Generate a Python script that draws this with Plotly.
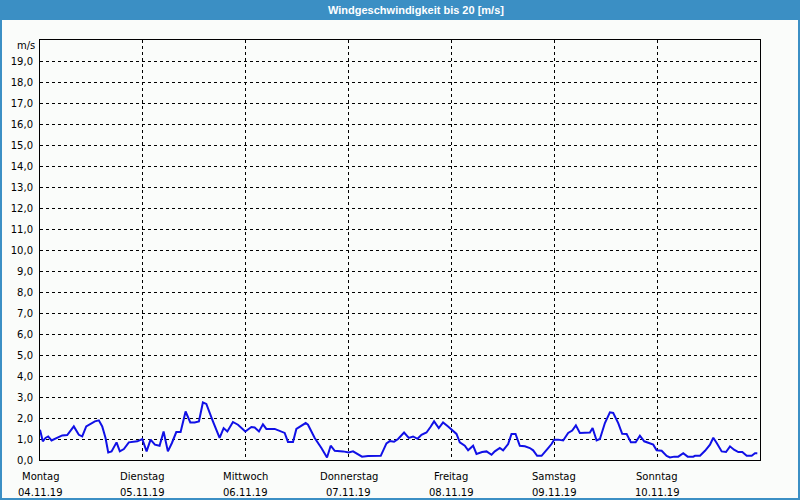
import plotly.graph_objects as go

# ---- data (hours since Monday 00:00, wind speed m/s) ----
hours = [0.0, 0.65, 1.28, 1.91, 2.69, 3.46, 4.39, 5.18, 6.35, 7.89, 9.06, 9.85, 10.79, 11.79,
         12.80, 13.73, 14.52, 15.29, 15.92, 16.70, 17.86, 18.63, 19.57, 20.73, 21.90, 22.70,
         23.86, 24.87, 25.80, 26.81, 27.90, 28.84, 29.84, 30.78, 31.80, 32.81, 33.97, 35.07,
         36.08, 37.08, 38.01, 38.81, 40.35, 41.91, 42.85, 43.71, 45.02, 46.19, 47.91, 49.32,
         50.09, 51.09, 52.02, 52.82, 54.76, 56.32, 57.09, 57.86, 59.03, 59.82, 60.99, 61.99,
         62.53, 64.10, 65.66, 66.43, 66.97, 67.83, 68.77, 70.70, 72.04, 73.04, 73.83, 75.14,
         76.54, 79.51, 80.84, 81.61, 82.61, 83.55, 84.95, 86.05, 87.05, 88.08, 89.01, 90.18,
         91.11, 91.95, 93.05, 94.05, 95.22, 96.39, 97.18, 97.95, 99.12, 99.89, 101.06, 101.85,
         103.16, 104.19, 105.36, 106.13, 107.29, 108.06, 109.23, 110.02, 110.96, 111.96,
         113.13, 114.30, 115.07, 116.00, 117.03, 118.57, 119.36, 119.97, 120.91, 122.07,
         123.24, 124.18, 125.04, 125.97, 127.14, 128.31, 128.94, 129.87, 130.64, 131.81,
         132.98, 133.75, 134.92, 135.85, 136.88, 137.88, 138.98, 139.98, 140.99, 141.92,
         143.09, 143.88, 145.05, 146.22, 146.99, 147.99, 148.93, 150.09, 151.12, 152.43,
         152.83, 154.00, 155.17, 156.33, 157.10, 157.90, 159.06, 160.07, 161.00, 161.94,
         162.94, 163.87, 164.90, 166.06, 166.83, 167.37]
speed = [1.44, 0.89, 1.05, 1.12, 0.93, 1.00, 1.12, 1.17, 1.19, 1.60, 1.20, 1.12, 1.60, 1.73,
         1.84, 1.89, 1.60, 1.05, 0.36, 0.41, 0.84, 0.41, 0.52, 0.84, 0.86, 0.89,
         1.00, 0.41, 0.97, 0.73, 0.68, 1.36, 0.41, 0.81, 1.33, 1.33, 2.31, 1.79,
         1.79, 1.84, 2.74, 2.67, 1.84, 1.05, 1.52, 1.36, 1.81, 1.68, 1.36, 1.57,
         1.55, 1.36, 1.70, 1.48, 1.48, 1.36, 1.29, 0.86, 0.86, 1.48, 1.63, 1.76,
         1.68, 1.05, 0.57, 0.33, 0.12, 0.68, 0.44, 0.41, 0.36, 0.41, 0.33, 0.16,
         0.19, 0.20, 0.79, 0.90, 0.87, 1.00, 1.31, 1.05, 1.12, 1.01, 1.20, 1.31,
         1.57, 1.84, 1.52, 1.79, 1.60, 1.36, 1.24, 0.84, 0.68, 0.46, 0.68, 0.29,
         0.38, 0.41, 0.25, 0.41, 0.57, 0.46, 0.76, 1.24, 1.24, 0.68,
         0.65, 0.57, 0.46, 0.20, 0.20, 0.57, 0.76, 0.97, 0.97, 0.93,
         1.29, 1.40, 1.65, 1.29, 1.31, 1.31, 1.52, 0.93, 1.00, 1.76,
         2.27, 2.24, 1.76, 1.25, 1.24, 0.84, 0.84, 1.16, 0.89, 0.81,
         0.73, 0.46, 0.44, 0.19, 0.12, 0.16, 0.16, 0.32, 0.16, 0.16,
         0.20, 0.20, 0.44, 0.73, 1.06, 0.81, 0.41, 0.38, 0.65, 0.49,
         0.38, 0.38, 0.20, 0.20, 0.32, 0.32]

day_hours = [0, 24, 48, 72, 96, 120, 144]
day_names = ["Montag", "Dienstag", "Mittwoch", "Donnerstag", "Freitag", "Samstag", "Sonntag"]
day_dates = ["04.11.19", "05.11.19", "06.11.19", "07.11.19", "08.11.19", "09.11.19", "10.11.19"]
y_ticks = list(range(0, 20))
y_labels = [f"{v},0" for v in y_ticks]
title_text = "Windgeschwindigkeit bis 20 [m/s]"
unit_text = "m/s"

# ---- layout constants (pixels) ----
W, H = 800, 500
ML, MR, MT, MB = 40, 40, 40, 40
PW, PH = W - ML - MR, H - MT - MB
BG = "#fafcfa"
BLUE = "#3b8fc4"
FONT = "DejaVu Sans"


def px_x(p):
    return (p - ML) / PW


def px_y(p):
    return (H - MB - p) / PH


fig = go.Figure()
fig.add_trace(go.Scatter(x=hours, y=speed, mode="lines",
                         line=dict(color="#1010e6", width=2), hoverinfo="skip"))

shapes = [
    # title bar
    dict(type="rect", xref="paper", yref="paper", x0=px_x(0), x1=px_x(W), y0=px_y(20), y1=px_y(0),
         fillcolor=BLUE, line=dict(width=0), layer="below"),
    # window border
    dict(type="rect", xref="paper", yref="paper", x0=px_x(1), x1=px_x(W - 1), y0=px_y(H - 1), y1=px_y(19),
         fillcolor="rgba(0,0,0,0)", line=dict(color=BLUE, width=2), layer="below"),
]

annotations = [
    dict(text=f"<b>{title_text}</b>", xref="paper", yref="paper", x=px_x(416), y=px_y(10),
         xanchor="center", yanchor="middle", showarrow=False,
         font=dict(family="Liberation Sans", size=11, color="white")),
    dict(text=unit_text, xref="paper", yref="paper", x=px_x(37), y=px_y(46),
         xanchor="right", yanchor="middle", showarrow=False,
         font=dict(family=FONT, size=10, color="black")),
]
for h, n, d in zip(day_hours, day_names, day_dates):
    annotations.append(dict(text=n, x=h, xref="x", yref="paper", y=px_y(476), xanchor="center",
                            yanchor="middle", showarrow=False,
                            font=dict(family=FONT, size=10, color="black")))
    annotations.append(dict(text=d, x=h, xref="x", yref="paper", y=px_y(492), xanchor="center",
                            yanchor="middle", showarrow=False,
                            font=dict(family=FONT, size=10, color="black")))

fig.update_layout(
    width=W, height=H,
    margin=dict(l=ML, r=MR, t=MT, b=MB, pad=0),
    paper_bgcolor=BG, plot_bgcolor=BG,
    showlegend=False,
    shapes=shapes,
    annotations=annotations,
    xaxis=dict(range=[0, 168], tickvals=day_hours, showticklabels=False, ticks="",
               showgrid=True, gridcolor="black", griddash="3px,3px", gridwidth=1,
               showline=True, linecolor="black", linewidth=1, mirror=True, zeroline=False),
    yaxis=dict(range=[0, 20], tickvals=y_ticks, ticktext=y_labels, ticks="", ticklabelstandoff=4,
               tickfont=dict(family=FONT, size=10, color="black"),
               showgrid=True, gridcolor="black", griddash="3px,3px", gridwidth=1,
               showline=True, linecolor="black", linewidth=1, mirror=True, zeroline=False),
)

fig.write_html("out.html")
